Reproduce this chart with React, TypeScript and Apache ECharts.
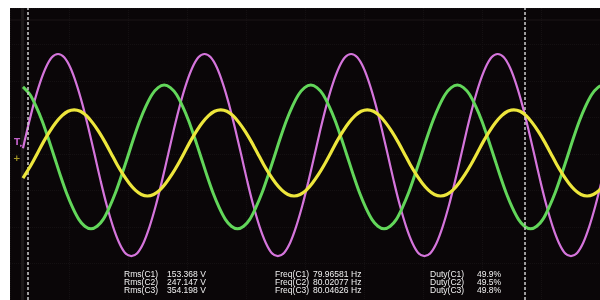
import React, { useEffect, useRef } from "react";
import * as echarts from "echarts";

// Time in ms, amplitude in screen divisions (8 divisions tall)
const c1Times = [
  1.1, 1.48,
  2.0, 2.52, 3.04, 3.55, 4.07, 4.59, 5.11, 5.62, 6.14, 6.66, 7.18, 7.69, 8.21, 8.73, 9.25, 9.76, 10.28, 10.8, 11.32, 11.83, 12.35, 12.87, 13.39, 13.9,
  14.42, 14.94, 15.46, 15.97, 16.49, 17.01, 17.53, 18.04, 18.56, 19.08, 19.6, 20.11, 20.63, 21.15, 21.67, 22.18, 22.7, 23.22, 23.74, 24.25, 24.77, 25.29, 25.81, 26.32,
  26.84, 27.36, 27.88, 28.39, 28.91, 29.43, 29.95, 30.46, 30.98, 31.5, 32.02, 32.53, 33.05, 33.57, 34.09, 34.6, 35.12, 35.64, 36.16, 36.67, 37.19, 37.71, 38.23, 38.74,
  39.26, 39.78, 40.3, 40.81, 41.33, 41.85, 42.37, 42.88, 43.4, 43.92, 44.44, 44.95, 45.47, 45.99, 46.51, 47.02, 47.54, 48.06, 48.58, 49.09, 49.61, 50.13, 50.65,
];
const c1Values = [
  0.16, 0.69,
  1.36, 1.93, 2.37, 2.65, 2.74, 2.65, 2.37, 1.93, 1.36, 0.69, -0.03, -0.75, -1.42, -1.99, -2.43, -2.71, -2.8, -2.71, -2.43, -1.99, -1.42, -0.75, -0.03, 0.69,
  1.36, 1.93, 2.37, 2.65, 2.74, 2.65, 2.37, 1.93, 1.36, 0.69, -0.03, -0.75, -1.42, -1.99, -2.43, -2.71, -2.8, -2.71, -2.43, -1.99, -1.42, -0.75, -0.03, 0.69,
  1.36, 1.93, 2.37, 2.65, 2.74, 2.65, 2.37, 1.93, 1.36, 0.69, -0.03, -0.75, -1.42, -1.99, -2.43, -2.71, -2.8, -2.71, -2.43, -1.99, -1.42, -0.75, -0.03, 0.69,
  1.36, 1.93, 2.37, 2.65, 2.74, 2.65, 2.37, 1.93, 1.36, 0.69, -0.03, -0.75, -1.42, -1.99, -2.43, -2.71, -2.8, -2.71, -2.43, -1.99, -1.42, -0.75, -0.03,
];

const c2Times = [
  1.1,
  1.69, 2.2, 2.72, 3.24, 3.76, 4.27, 4.79, 5.31, 5.83, 6.34, 6.86, 7.38, 7.9, 8.41, 8.93, 9.45, 9.97, 10.48, 11.0, 11.52, 12.04, 12.55, 13.07, 13.59,
  14.11, 14.62, 15.14, 15.66, 16.18, 16.69, 17.21, 17.73, 18.25, 18.76, 19.28, 19.8, 20.32, 20.83, 21.35, 21.87, 22.39, 22.9, 23.42, 23.94, 24.46, 24.97, 25.49, 26.01,
  26.53, 27.04, 27.56, 28.08, 28.6, 29.11, 29.63, 30.15, 30.67, 31.18, 31.7, 32.22, 32.74, 33.25, 33.77, 34.29, 34.81, 35.32, 35.84, 36.36, 36.88, 37.39, 37.91, 38.43,
  38.95, 39.46, 39.98, 40.5, 41.02, 41.53, 42.05, 42.57, 43.09, 43.6, 44.12, 44.64, 45.16, 45.67, 46.19, 46.71, 47.23, 47.74, 48.26, 48.78, 49.3, 49.81, 50.33, 50.85,
];
const c2Values = [
  1.84,
  1.63, 1.31, 0.91, 0.43, -0.08, -0.59, -1.07, -1.47, -1.79, -1.98, -2.05, -1.98, -1.79, -1.47, -1.07, -0.59, -0.08, 0.43, 0.91, 1.31, 1.63, 1.82, 1.89, 1.82,
  1.63, 1.31, 0.91, 0.43, -0.08, -0.59, -1.07, -1.47, -1.79, -1.98, -2.05, -1.98, -1.79, -1.47, -1.07, -0.59, -0.08, 0.43, 0.91, 1.31, 1.63, 1.82, 1.89, 1.82,
  1.63, 1.31, 0.91, 0.43, -0.08, -0.59, -1.07, -1.47, -1.79, -1.98, -2.05, -1.98, -1.79, -1.47, -1.07, -0.59, -0.08, 0.43, 0.91, 1.31, 1.63, 1.82, 1.89, 1.82,
  1.63, 1.31, 0.91, 0.43, -0.08, -0.59, -1.07, -1.47, -1.79, -1.98, -2.05, -1.98, -1.79, -1.47, -1.07, -0.59, -0.08, 0.43, 0.91, 1.31, 1.63, 1.82, 1.89, 1.82,
];

const c3Times = [
  1.1, 1.3, 1.82,
  2.34, 2.85, 3.37, 3.89, 4.41, 4.92, 5.44, 5.96, 6.48, 6.99, 7.51, 8.03, 8.55, 9.06, 9.58, 10.1, 10.62, 11.13, 11.65, 12.17, 12.69, 13.2, 13.72, 14.24,
  14.76, 15.27, 15.79, 16.31, 16.83, 17.34, 17.86, 18.38, 18.9, 19.41, 19.93, 20.45, 20.97, 21.48, 22.0, 22.52, 23.04, 23.55, 24.07, 24.59, 25.11, 25.62, 26.14, 26.66,
  27.18, 27.69, 28.21, 28.73, 29.25, 29.76, 30.28, 30.8, 31.32, 31.83, 32.35, 32.87, 33.39, 33.9, 34.42, 34.94, 35.46, 35.97, 36.49, 37.01, 37.53, 38.04, 38.56, 39.08,
  39.6, 40.11, 40.63, 41.15, 41.67, 42.18, 42.7, 43.22, 43.74, 44.25, 44.77, 45.29, 45.81, 46.32, 46.84, 47.36, 47.88, 48.39, 48.91, 49.43, 49.95, 50.46,
];
const c3Values = [
  -0.66, -0.56, -0.28,
  0.03, 0.34, 0.62, 0.86, 1.05, 1.17, 1.21, 1.17, 1.05, 0.86, 0.62, 0.34, 0.03, -0.28, -0.56, -0.8, -0.99, -1.11, -1.15, -1.11, -0.99, -0.8, -0.56, -0.28,
  0.03, 0.34, 0.62, 0.86, 1.05, 1.17, 1.21, 1.17, 1.05, 0.86, 0.62, 0.34, 0.03, -0.28, -0.56, -0.8, -0.99, -1.11, -1.15, -1.11, -0.99, -0.8, -0.56, -0.28,
  0.03, 0.34, 0.62, 0.86, 1.05, 1.17, 1.21, 1.17, 1.05, 0.86, 0.62, 0.34, 0.03, -0.28, -0.56, -0.8, -0.99, -1.11, -1.15, -1.11, -0.99, -0.8, -0.56, -0.28,
  0.03, 0.34, 0.62, 0.86, 1.05, 1.17, 1.21, 1.17, 1.05, 0.86, 0.62, 0.34, 0.03, -0.28, -0.56, -0.8, -0.99, -1.11, -1.15, -1.11, -0.99, -0.8,
];

const cursorTimes = [1.53, 43.64];

const rmsLabels = ["Rms(C1)", "Rms(C2)", "Rms(C3)"];
const rmsValues = ["153.368 V", "247.147 V", "354.198 V"];
const freqLabels = ["Freq(C1)", "Freq(C2)", "Freq(C3)"];
const freqValues = ["79.96581 Hz", "80.02077 Hz", "80.04626 Hz"];
const dutyLabels = ["Duty(C1)", "Duty(C2)", "Duty(C3)"];
const dutyValues = ["49.9%", "49.5%", "49.8%"];

const pair = (t: number[], v: number[]) => t.map((x, i) => [x, v[i]]);

export default function App() {
  const ref = useRef<HTMLDivElement>(null);
  useEffect(() => {
    if (!ref.current) return;
    const chart = echarts.init(ref.current, null, { renderer: "svg" });
    const textColor = "#f0f0f0";
    const font = '9px "Liberation Sans", Arial, sans-serif';
    const rowY = [274, 282, 290];
    const statText: any[] = [];
    const addCol = (labels: string[], values: string[], xl: number, xv: number) => {
      labels.forEach((l, i) => {
        statText.push({
          type: "text", x: xl, y: rowY[i], scaleX: 0.95,
          style: { text: l, fill: textColor, font, verticalAlign: "middle" },
        });
        statText.push({
          type: "text", x: xv, y: rowY[i], scaleX: 0.95,
          style: { text: values[i], fill: textColor, font, verticalAlign: "middle" },
        });
      });
    };
    addCol(rmsLabels, rmsValues, 124, 167);
    addCol(freqLabels, freqValues, 275, 313);
    addCol(dutyLabels, dutyValues, 430, 477);

    chart.setOption({
      animation: false,
      grid: {
        left: 10, right: 0, top: 8, bottom: 0,
        show: true, backgroundColor: "#0a0608", borderWidth: 0,
      },
      xAxis: {
        type: "value", min: 0, max: 50, interval: 5,
        axisLine: { show: false }, axisTick: { show: false }, axisLabel: { show: false },
        splitLine: { show: true, lineStyle: { color: "#141012", type: "dotted", width: 1 } },
      },
      yAxis: {
        type: "value", min: -4, max: 4, interval: 1,
        axisLine: { show: false }, axisTick: { show: false }, axisLabel: { show: false },
        splitLine: { show: true, lineStyle: { color: "#141012", type: "dotted", width: 1 } },
      },
      graphic: [
        { type: "rect", shape: { x: 21, y: 8, width: 3, height: 292 }, style: { fill: "#1c1819" }, z: 1 },
        { type: "line", shape: { x1: 10, y1: 20, x2: 600, y2: 20 }, style: { stroke: "#1a1517", lineWidth: 1 }, z: 1 },
        { type: "text", x: 14, y: 137, style: { text: "T", fill: "#c060c8", font: 'bold 9px "DejaVu Sans"' }, z: 10 },
        { type: "text", x: 20, y: 142, style: { text: "▸", fill: "#c060c8", font: '5px "DejaVu Sans"' }, z: 10 },
        { type: "text", x: 13, y: 153, style: { text: "+", fill: "#a89a28", font: 'bold 9px "DejaVu Sans"' }, z: 10 },
        ...statText.map((t) => ({ ...t, z: 20 })),
      ],
      series: [
        {
          type: "line", data: pair(c1Times, c1Values), smooth: 0.3, showSymbol: false,
          lineStyle: { color: "#d575dc", width: 2.2 }, z: 3,
          markLine: {
            silent: true, symbol: "none", label: { show: false },
            lineStyle: { color: "#cfcfcf", type: [3, 2], width: 1.5 },
            data: cursorTimes.map((t) => ({ xAxis: t })),
          },
        },
        {
          type: "line", data: pair(c2Times, c2Values), smooth: 0.3, showSymbol: false,
          lineStyle: { color: "#62d65a", width: 3 }, z: 4,
        },
        {
          type: "line", data: pair(c3Times, c3Values), smooth: 0.3, showSymbol: false,
          lineStyle: { color: "#ede63c", width: 3.2 }, z: 5,
        },
      ],
    });
    return () => chart.dispose();
  }, []);
  return (
    <div
      ref={ref}
      style={{ position: "fixed", left: 0, top: 0, width: 600, height: 300 }}
    />
  );
}
